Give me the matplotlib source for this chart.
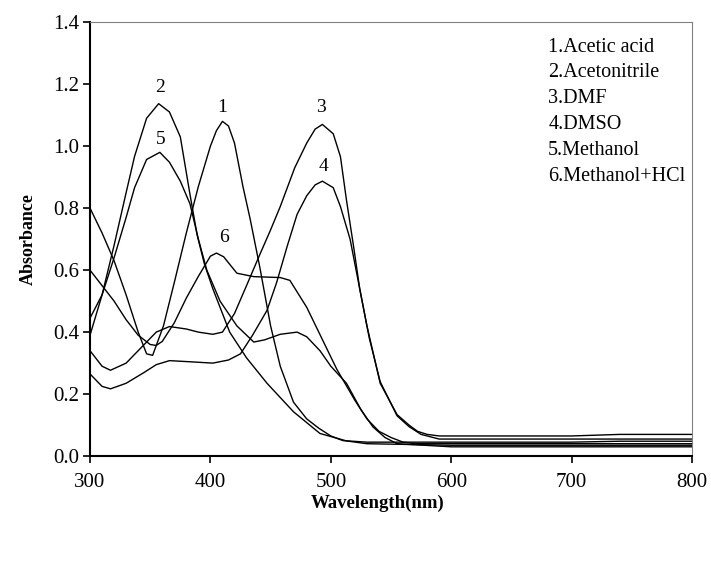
import matplotlib
matplotlib.use('Agg')
import matplotlib.pyplot as plt

plt.rcParams['font.family'] = ['Liberation Serif', 'DejaVu Serif']

# 1. Acetic acid
wl_1 = [300, 310, 320, 330, 340, 347, 352, 361, 370, 380, 390, 400, 405, 410, 415, 420, 427, 433, 441, 450, 458, 469, 480, 490, 500, 510, 530, 600, 700, 740, 800]
ab_1 = [0.80, 0.72, 0.63, 0.52, 0.40, 0.33, 0.325, 0.42, 0.56, 0.72, 0.87, 1.00, 1.05, 1.08, 1.065, 1.01, 0.87, 0.765, 0.61, 0.42, 0.29, 0.174, 0.12, 0.09, 0.065, 0.05, 0.045, 0.045, 0.045, 0.048, 0.048]
# 2. Acetonitrile
wl_2 = [300, 310, 320, 330, 337, 347, 357, 366, 375, 383, 389, 395, 402, 416, 430, 447, 469, 491, 513, 530, 600, 700, 740, 800]
ab_2 = [0.39, 0.52, 0.68, 0.85, 0.967, 1.09, 1.137, 1.11, 1.03, 0.845, 0.713, 0.62, 0.54, 0.40, 0.317, 0.235, 0.143, 0.073, 0.049, 0.04, 0.035, 0.035, 0.035, 0.035]
# 3. DMF
wl_3 = [300, 310, 317, 330, 345, 355, 366, 380, 390, 402, 410, 420, 430, 441, 450, 458, 470, 480, 487, 493, 502, 508, 513, 519, 524, 530, 541, 555, 565, 572, 580, 590, 700, 740, 800]
ab_3 = [0.34, 0.29, 0.277, 0.30, 0.36, 0.40, 0.418, 0.41, 0.40, 0.393, 0.40, 0.46, 0.55, 0.65, 0.73, 0.805, 0.93, 1.01, 1.055, 1.07, 1.04, 0.966, 0.826, 0.674, 0.54, 0.42, 0.235, 0.134, 0.10, 0.08, 0.07, 0.065, 0.065, 0.07, 0.07]
# 4. DMSO
wl_4 = [300, 310, 317, 330, 345, 355, 366, 380, 402, 415, 425, 435, 447, 455, 464, 472, 480, 487, 493, 502, 508, 516, 521, 526, 532, 541, 555, 565, 575, 590, 700, 740, 800]
ab_4 = [0.265, 0.225, 0.217, 0.235, 0.27, 0.295, 0.308, 0.305, 0.30, 0.31, 0.33, 0.39, 0.47, 0.56, 0.68, 0.78, 0.84, 0.875, 0.887, 0.866, 0.805, 0.70, 0.60, 0.50, 0.38, 0.24, 0.13, 0.095, 0.07, 0.055, 0.055, 0.055, 0.055]
# 5. Methanol
wl_5 = [300, 310, 320, 330, 337, 347, 358, 366, 375, 383, 390, 397, 408, 422, 436, 445, 458, 472, 480, 491, 500, 513, 525, 535, 545, 555, 600, 700, 740, 800]
ab_5 = [0.445, 0.52, 0.64, 0.77, 0.866, 0.957, 0.98, 0.948, 0.887, 0.814, 0.70, 0.60, 0.50, 0.42, 0.368, 0.375, 0.393, 0.40, 0.385, 0.34, 0.29, 0.235, 0.15, 0.094, 0.06, 0.04, 0.03, 0.03, 0.03, 0.03]
# 6. Methanol+HCl
wl_6 = [300, 310, 320, 330, 340, 350, 355, 360, 370, 380, 390, 400, 405, 411, 422, 436, 458, 466, 480, 494, 505, 520, 530, 540, 550, 560, 570, 600, 700, 740, 800]
ab_6 = [0.60, 0.55, 0.50, 0.44, 0.39, 0.36, 0.357, 0.37, 0.43, 0.51, 0.58, 0.645, 0.655, 0.643, 0.59, 0.579, 0.576, 0.567, 0.48, 0.368, 0.28, 0.18, 0.12, 0.08, 0.06, 0.045, 0.04, 0.04, 0.04, 0.04, 0.04]

curve_tags = ['1', '2', '3', '4', '5', '6']
tag_pos = [(410, 1.125), (358, 1.19), (492, 1.125), (494, 0.935), (359, 1.02), (411, 0.705)]
legend_lines = ['1.Acetic acid', '2.Acetonitrile', '3.DMF', '4.DMSO', '5.Methanol', '6.Methanol+HCl']

fig = plt.figure(figsize=(7.11, 5.68), dpi=100)
ax = fig.add_axes([0.1266, 0.197, 0.8467, 0.764])

for wl, ab in [(wl_1, ab_1), (wl_2, ab_2), (wl_3, ab_3), (wl_4, ab_4), (wl_5, ab_5), (wl_6, ab_6)]:
    ax.plot(wl, ab, color='black', lw=1.0)

for t, (x, y) in zip(curve_tags, tag_pos):
    ax.text(x, y, t, ha='center', va='center', fontsize=14)

for i, s in enumerate(legend_lines):
    fig.text(0.771, 0.917 - i * 0.0455, s, ha='left', va='center', fontsize=14.5)

ax.set_xlim(300, 800)
ax.set_ylim(0, 1.4)
ax.set_xticks([300, 400, 500, 600, 700, 800])
ax.set_yticks([0.0, 0.2, 0.4, 0.6, 0.8, 1.0, 1.2, 1.4])
ax.set_yticklabels(['%.1f' % v for v in ax.get_yticks()])
ax.tick_params(direction='out', length=5, width=1.2, labelsize=15, top=False, right=False)
ax.tick_params(axis='x', pad=7)
ax.tick_params(axis='y', pad=3)
ax.spines['left'].set_linewidth(1.5)
ax.spines['bottom'].set_linewidth(1.5)
ax.spines['top'].set_color('gray')
ax.spines['right'].set_color('gray')
ax.set_xlabel('Wavelength(nm)', fontsize=13.5, fontweight='bold')
ax.xaxis.set_label_coords(0.477, -0.09)
ax.set_ylabel('Absorbance', fontsize=13, fontweight='bold')
ax.yaxis.set_label_coords(-0.088, 0.5)

fig.savefig('out.png', dpi=100)
